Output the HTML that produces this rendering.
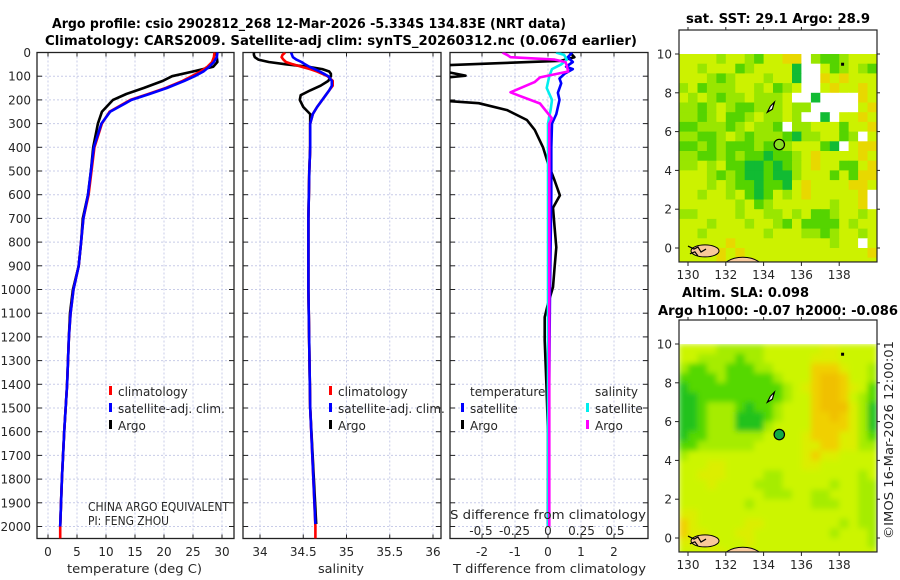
<!DOCTYPE html>
<html><head><meta charset="utf-8"><style>
html,body{margin:0;padding:0;background:#fff;}
svg{display:block;font-family:"DejaVu Sans","Liberation Sans",sans-serif;}
.t{font-size:12px;fill:#262626;}
.b{font-size:13px;font-weight:bold;fill:#000;}
</style></head><body>
<svg id="fig" width="900" height="580" viewBox="0 0 900 580" xmlns="http://www.w3.org/2000/svg">
<text class="b" x="52" y="28" textLength="514" lengthAdjust="spacingAndGlyphs">Argo profile: csio 2902812_268 12-Mar-2026 -5.334S 134.83E (NRT data)</text>
<text class="b" x="45" y="45" textLength="592" lengthAdjust="spacingAndGlyphs">Climatology: CARS2009. Satellite-adj clim: synTS_20260312.nc (0.067d earlier)</text>
<text class="b" x="686" y="23" textLength="184" lengthAdjust="spacingAndGlyphs">sat. SST: 29.1 Argo: 28.9</text>
<text class="b" x="682" y="297" textLength="127" lengthAdjust="spacingAndGlyphs">Altim. SLA: 0.098</text>
<text class="b" x="658" y="315" textLength="240" lengthAdjust="spacingAndGlyphs">Argo h1000: -0.07 h2000: -0.086</text>
<text class="t" transform="translate(893,539) rotate(-90)" textLength="198" lengthAdjust="spacingAndGlyphs">©IMOS 16-Mar-2026 12:00:01</text>
</svg>
<script>
// ---- profile data ----
const tempDepth = [0,20,40,60,80,100,120,150,175,200,250,300,400,500,600,700,800,900,1000,1100,1200,1400,1600,1800,2000];
const tempArgo  = [29,29.1,29.2,28.5,25,21.4,19.8,16.5,13.5,11.2,9.3,8.6,7.8,7.4,6.9,6,5.7,5.3,4.3,3.8,3.6,3.3,2.8,2.4,2.1];
const tempSat   = [29.2,29.1,28.6,27.8,26.8,25.3,23.5,20.5,17.5,14.4,10.7,9.2,7.9,7.4,6.9,6.1,5.7,5.3,4.4,3.9,3.6,3.3,2.8,2.4,2.1];
const tempClimDepth = [0,20,40,60,80,100,120,150,175,200,250,300,400,500,600,700,800,900,1000,1100,1200,1400,1600,1800,2000,2050];
const tempClim  = [28.7,28.6,28.3,27.5,26.3,24.8,23.2,20.3,17.3,14.2,10.6,9.3,8,7.5,7,6.1,5.7,5.3,4.4,3.9,3.6,3.3,2.8,2.4,2.1,2.1];

const salDepth = [0,10,20,30,40,50,60,70,80,90,100,120,140,160,180,200,230,260,300,400,500,700,1000,1500,1990];
const salArgo  = [33.93,33.93,33.94,33.98,34.1,34.3,34.55,34.72,34.8,34.82,34.82,34.79,34.7,34.58,34.47,34.46,34.5,34.58,34.58,34.58,34.57,34.56,34.56,34.58,34.65];
const salClimDepth = [0,10,20,30,40,50,60,70,80,90,100,120,140,160,180,200,230,260,300,400,500,700,1000,1500,2000,2050];
const salClim  = [34.29,34.26,34.25,34.27,34.3,34.38,34.48,34.58,34.66,34.72,34.78,34.84,34.84,34.8,34.76,34.72,34.66,34.61,34.58,34.58,34.57,34.56,34.56,34.58,34.64,34.64];
const salSat   = [34.36,34.37,34.38,34.42,34.48,34.52,34.57,34.63,34.69,34.74,34.79,34.83,34.83,34.8,34.76,34.72,34.66,34.61,34.58,34.58,34.57,34.56,34.56,34.58,34.64];

const tdArgoDepth = [0,20,35,45,56,70,84,98,112,200,214,243,285,327,400,468,540,603,655,738,822,906,990,1060,1117,1215,1400,1600,1800,1990];
const tdArgo      = [0.67,0.8,0.4,-1.5,-3.5,-3.5,-3.0,-2.5,-3.5,-3.5,-2.1,-1.24,-0.64,-0.4,-0.15,0,0.2,0.36,0.15,0.2,0.25,0.2,0.15,0,-0.1,-0.1,-0.05,0,0,0];
const tdSatDepth  = [0,20,40,60,70,90,110,130,170,200,230,260,300,400,600,1000,1500,2000];
const tdSat       = [0.73,0.6,0.75,0.55,0.75,0.5,0.35,0.4,0.3,0.35,0.3,0.25,0.12,0.1,0.1,0.06,0.03,0];
const sdSatDepth  = [0,10,30,50,70,100,150,200,240,300,2000];
const sdSat       = [0.06,0.12,0.14,0.1,0.03,0.01,-0.01,0.03,0.02,0,0];
const sdArgoDepth = [0,12,20,30,40,55,80,105,125,168,181,215,278,300,2000];
const sdArgo      = [-0.34,-0.3,-0.28,0.05,0.13,0.14,0.15,-0.06,-0.1,-0.28,-0.22,-0.06,0.03,0.01,0.01];

const depthTicks = [0,100,200,300,400,500,600,700,800,900,1000,1100,1200,1300,1400,1500,1600,1700,1800,1900,2000];
const tTicks = [0,5,10,15,20,25,30];
const sTicks = [34,34.5,35,35.5,36];
const sTickLabels = ["34","34.5","35","35.5","36"];
const tdTicks = [-2,-1,0,1,2];
const sdTicks = [-0.5,-0.25,0,0.25,0.5];
const sdTickLabels = ["-0.5","-0.25","0","0.25","0.5"];

// ---- map data (rows from north to south, 0.5 deg cells, lon 129.5..140) ----
const mapLat0 = 10, mapLon0 = 129.5, cellDeg = 0.5;
const sstRows = [
"yyyylyylGyyoo.lGGlyyy","yylyyyGlyyyyg..yGlylG","yyylGlyyylyyg..oyoyyy","lyGlllyylyGly..yoyyoy",
"ylylGllyllly..g....oy","llGlylGGlllyll.....yo","llGlyGGlyllyl..g.yyoy","GGlllGlyllG.llyyyGyyo",
"llGGlylGlllGgllyyGl.y","GGlGlGGGlGGlyyyGg.yoo","llGGlGlGGgGGlyoyyyyoy","llylyGGggGgGlyoyyGGyo",
"yyylGlGggGgglyyyGyGoo","yyylylGGgGGgyoyyyyooy","yylyylyGgGylyoyyyyyo.","yyyyyylyGlyyyyyylyyo.",
"llyyyylyyllylyGGlyyly","yyylyyylyylGyGGGGylyy","yylyyyyyylyyyllGlyyly","yyyyyoyyyyyyyyyylyy.y",
"yyyyoyoyyyyyyyyyyyyyo","yyyyoyyoyyyyyyyyyyyyy"];
const slaRows = [
"yyyylllllyyyyyyYYyyyy","yyllllGllyyyyyYYYyyyy","lGGllGGGllyyyyoooYyyl","GGGGlGGGGGlyyyoOOoyyl",
"gGGGGGGGGGGlyYoOOoYyG","ggGGGGGGGGGlyyoOOoylG","ggGlllGgGGlyyyoOOOYlg","ggGlllgggGlyyyooOoYlg",
"ggGlllggglyyyyooooYlg","gGGllllllyyyyYoooYYlG","GGllllllyyyyyYYooYYll","lyyyyyyyyyyyyYoYYyyyy",
"yyyYYyyyyyyyyYYyyyyyy","yyYYYyyyyllyyyyyyyyly","yyyYyyyylllyyyyylyyll","yyyyyyyyylllyyllyyyll",
"yyyyyyylyyyyyylllyyll","YYyyyyyyyyyyyyyyyyyll","oYyyyyyYYyyyyyyyylyll","oYYyyyYYyyyyyyyylyyyl",
"YYYYyyyYyyyyyyyyyyyyl","yyyYYyyyyyyyyyyyyyyyy"];
const mapLonTicks = [130,132,134,136,138];
const mapLatTicks = [0,2,4,6,8,10];
const argoLon = 134.83, argoLat = 5.334;

const NS = "http://www.w3.org/2000/svg";
const fig = document.getElementById('fig');
function mk(tag, attrs, parent){ const e=document.createElementNS(NS,tag); for(const k in attrs) e.setAttribute(k,attrs[k]); (parent||fig).appendChild(e); return e; }

const yTop=52.5, pxPer100=23.7, yBot=538.5;
const yD = d => yTop + d*pxPer100/100;
const panels = [
 {x0:37,x1:234,name:'temperature-panel',fx:v=>48+5.8*v},
 {x0:243,x1:441,name:'salinity-panel',fx:v=>260+86.5*(v-34)},
 {x0:450,x1:648,name:'difference-panel',fx:v=>548+33*v}
];
const fxS = v=>548+134*v;

let defs = mk('defs',{});
panels.forEach((p,i)=>{
  const cp = mk('clipPath',{id:'cp'+i},defs);
  mk('rect',{x:p.x0,y:yTop,width:p.x1-p.x0,height:yBot-yTop},cp);
});

function line(xs, ds, fx, color, name, clip, w){
  const pts = xs.map((v,i)=>fx(v).toFixed(1)+','+yD(ds[i]).toFixed(1)).join(' ');
  const el = mk('polyline',{points:pts,fill:'none',stroke:color,'stroke-width':w||2.6,'stroke-linejoin':'round','clip-path':'url(#'+clip+')'});
  
  
}

panels.forEach((p,i)=>{
  const g = mk('g',{});
  
  
  depthTicks.forEach(d=>{
    mk('line',{x1:p.x0,x2:p.x1,y1:yD(d),y2:yD(d),stroke:'#c8cce8','stroke-width':1,'stroke-dasharray':'2,2'},g);
    mk('line',{x1:p.x0,x2:p.x0+5,y1:yD(d),y2:yD(d),stroke:'#222'},g);
    mk('line',{x1:p.x1-5,x2:p.x1,y1:yD(d),y2:yD(d),stroke:'#222'},g);
  });
  const xt = i===0?tTicks:(i===1?sTicks:tdTicks);
  xt.forEach((v,k)=>{
    const x=p.fx(v);
    mk('line',{x1:x,x2:x,y1:yTop,y2:yBot,stroke:'#c8cce8','stroke-width':1,'stroke-dasharray':'2,2'},g);
    mk('line',{x1:x,x2:x,y1:yBot-4,y2:yBot,stroke:'#222'},g);
    mk('line',{x1:x,x2:x,y1:yTop,y2:yTop+4,stroke:'#222'},g);
    const lab = mk('text',{x:x,y:556,'text-anchor':'middle',class:'t'},g);
    lab.textContent = i===1?sTickLabels[k]:String(v);
    
    
  });
  mk('rect',{x:p.x0,y:yTop,width:p.x1-p.x0,height:yBot-yTop,fill:'none',stroke:'#222','stroke-width':1.3},g);
});
depthTicks.forEach(d=>{
  const t = mk('text',{x:31,y:yD(d)+4.5,'text-anchor':'end',class:'t'});
  t.textContent = String(d);
  
  
});
[[67,135,'temperature (deg C)','x-axis-title-temperature'],[318,46,'salinity','x-axis-title-salinity'],[453,193,'T difference from climatology','x-axis-title-t-diff']].forEach(a=>{
  const t = mk('text',{x:a[0],y:573,class:'t','font-size':'13',textLength:a[1],lengthAdjust:'spacingAndGlyphs'});
  t.textContent = a[2];
  
  
});

line(tempArgo,tempDepth,panels[0].fx,'#000000','temp-argo-line','cp0');
line(tempClim,tempClimDepth,panels[0].fx,'#ff0000','temp-climatology-line','cp0');
line(tempSat,tempDepth,panels[0].fx,'#0000ff','temp-satellite-line','cp0');
line(salArgo,salDepth,panels[1].fx,'#000000','sal-argo-line','cp1');
line(salClim,salClimDepth,panels[1].fx,'#ff0000','sal-climatology-line','cp1');
line(salSat,salDepth,panels[1].fx,'#0000ff','sal-satellite-line','cp1');
line(tdArgo,tdArgoDepth,panels[2].fx,'#000000','t-diff-argo-line','cp2');
line(tdSat,tdSatDepth,panels[2].fx,'#0000ff','t-diff-satellite-line','cp2');
line(sdSat,sdSatDepth,fxS,'#00eeee','s-diff-satellite-line','cp2');
line(sdArgo,sdArgoDepth,fxS,'#ff00ff','s-diff-argo-line','cp2');

function legend(x,y,color,label,name){
  const g = mk('g',{});
  
  
  mk('rect',{x:x,y:y-10,width:3,height:9,fill:color},g);
  const t = mk('text',{x:x+9,y:y,class:'t','font-size':'13'},g); t.textContent=label;
}
legend(109,396,'#ff0000','climatology','legend-temp-climatology');
legend(109,413,'#0000ff','satellite-adj. clim.','legend-temp-satellite');
legend(109,430,'#000','Argo','legend-temp-argo');
legend(329,396,'#ff0000','climatology','legend-sal-climatology');
legend(329,413,'#0000ff','satellite-adj. clim.','legend-sal-satellite');
legend(329,430,'#000','Argo','legend-sal-argo');
legend(461,413,'#0000ff','satellite','legend-tdiff-satellite');
legend(461,430,'#000','Argo','legend-tdiff-argo');
legend(586,413,'#00eeee','satellite','legend-sdiff-satellite');
legend(586,430,'#ff00ff','Argo','legend-sdiff-argo');
[[470,396,'temperature','legend-header-temperature'],[595,396,'salinity','legend-header-salinity']].forEach(a=>{
  const t=mk('text',{x:a[0],y:a[1],class:'t','font-size':'13'}); t.textContent=a[2];
  
  
});
const sdt = mk('text',{x:450,y:519,class:'t','font-size':'13',textLength:196,lengthAdjust:'spacingAndGlyphs'}); sdt.textContent='S difference from climatology';


sdTicks.forEach((v,k)=>{
  const t = mk('text',{x:fxS(v),y:535,'text-anchor':'middle',class:'t','font-size':'13'}); t.textContent=sdTickLabels[k];
  
  
});
[['CHINA ARGO EQUIVALENT',511,141],['PI: FENG ZHOU',525,81]].forEach(a=>{
  const t=mk('text',{x:88,y:a[1],class:'t','font-size':'11',fill:'#111',textLength:a[2],lengthAdjust:'spacingAndGlyphs'}); t.textContent=a[0];
  
  
});

const sstColors = {y:'#ccf200',l:'#99e600',G:'#55d400',g:'#11bb33',o:'#e8d800','.':'#ffffff'};
const slaColors = {y:'#ccf500',Y:'#dcee00',l:'#a6ec00',G:'#55d800',g:'#22c21a',o:'#f0d000',O:'#f0c000'};
function drawMap(top, rows, colors, name, blur, markerFill){
  const bx0=679,bx1=877, by0=top, lat10y=top+24, px=19.4, pxLon=18.9, lon130x=688;
  const fx = lon=>lon130x+(lon-130)*pxLon;
  const fyy = lat=>lat10y+(10-lat)*px;
  const by1=fyy(-0.72);
  const cp = mk('clipPath',{id:'cp'+name},defs);
  mk('rect',{x:bx0,y:lat10y,width:bx1-bx0,height:by1-lat10y},cp);
  const g = mk('g',{'clip-path':'url(#cp'+name+')'});
  
  
  const inner = mk('g',blur?{filter:'url(#blur)'}:{},g);
  rows.forEach((row,r)=>{
    for(let c=0;c<row.length;c++){
      const lon = mapLon0 + c*cellDeg, lat = mapLat0 - r*cellDeg;
      const x = fx(lon), y = fyy(lat);
      const cell = mk('rect',{x:x.toFixed(1),y:y.toFixed(1),width:(cellDeg*pxLon+0.6).toFixed(1),height:(cellDeg*px+0.6).toFixed(1),fill:colors[row[c]]},inner);
      
      
    }
  });
  mk('ellipse',{cx:fx(130.9),cy:fyy(-0.15),rx:14,ry:6,fill:'#f8c89a',stroke:'#000','stroke-width':1},g);
  mk('ellipse',{cx:fx(132.9),cy:fyy(-1.2),rx:22,ry:14,fill:'#f8c89a',stroke:'#000','stroke-width':1},g);
  mk('path',{d:`M${fx(130)} ${fyy(0.1)} l6 3 l4 -2 l3 5 l5 -3 M${fx(130.1)} ${fyy(-0.3)} l5 -2 l3 4`,fill:'none',stroke:'#000','stroke-width':1.2},g);
  mk('path',{d:`M${fx(134.2)} ${fyy(7.0)} l3 -6 l4 -4 l-2 7 z`,fill:'#fff',stroke:'#000','stroke-width':1.2},g);
  mk('rect',{x:fx(138.1),y:fyy(9.55),width:3,height:3,fill:'#000'},g);
  const mkr = mk('circle',{cx:fx(argoLon),cy:fyy(argoLat),r:5.2,fill:markerFill,stroke:'#000','stroke-width':1.2},g);
  
  
  const frame = mk('rect',{x:bx0,y:by0,width:bx1-bx0,height:by1-by0,fill:'none',stroke:'#222','stroke-width':1.2});
  
  
  mapLonTicks.forEach(l=>{
    mk('line',{x1:fx(l),x2:fx(l),y1:by1,y2:by1+4,stroke:'#222'});
    mk('line',{x1:fx(l),x2:fx(l),y1:by0,y2:by0-3,stroke:'#222'});
    const t=mk('text',{x:fx(l),y:by1+17,'text-anchor':'middle',class:'t'}); t.textContent=String(l);
    
    
  });
  mapLatTicks.forEach(l=>{
    mk('line',{x1:bx0-4,x2:bx0,y1:fyy(l),y2:fyy(l),stroke:'#222'});
    mk('line',{x1:bx1,x2:bx1+3,y1:fyy(l),y2:fyy(l),stroke:'#222'});
    const t=mk('text',{x:bx0-7,y:fyy(l)+4.5,'text-anchor':'end',class:'t'}); t.textContent=String(l);
    
    
  });
}
const flt = mk('filter',{id:'blur',x:'-5%',y:'-5%',width:'110%',height:'110%'},defs);
mk('feGaussianBlur',{stdDeviation:3},flt);
drawMap(30, sstRows, sstColors, 'sst-map', false, '#88dd22');
drawMap(320, slaRows, slaColors, 'sla-map', true, '#11aa44');
</script>
</body></html>
